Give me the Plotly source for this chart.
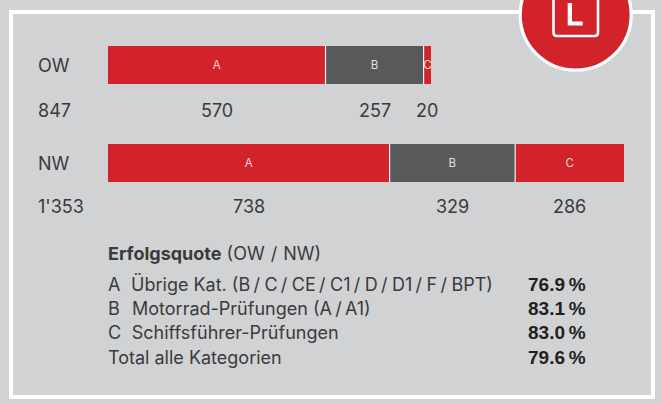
import plotly.graph_objects as go

W, H = 662, 403
regions = ["OW", "NW"]
totals = ["847", "1'353"]
seg_names = ["A", "B", "C"]
seg_values = {"A": [570, 738], "B": [257, 329], "C": [20, 286]}
seg_colors = {"A": "#d2232a", "B": "#58595b", "C": "#d2232a"}
table_title = "Erfolgsquote"
table_sub = " (OW\u2004/\u2004NW)"
table_labels = [
    "A\u2002\u200aÜbrige Kat. (B\u2009/\u2005C\u2009/\u2005CE\u2009/\u2005C1\u2009/\u2005D\u2009/\u2005D1\u2009/\u2005F\u2009/\u2005BPT)",
    "B\u2002\u200a\u200aMotorrad-Prüfungen (A\u2009/\u2009A1)",
    "C\u2002\u200aSchiffsführer-Prüfungen",
    "Total alle Kategorien",
]
table_rates = ["76.9\u2009%", "83.1\u2009%", "83.0\u2009%", "79.6\u2009%"]

FONT = "Inter"
TXT = "#3a3a3c"
BG = "#d1d2d4"
RED = "#d2232a"


def px(x):
    return x / W


def py(y):
    return 1 - y / H


fig = go.Figure()
for name in seg_names:
    fig.add_trace(go.Bar(
        y=regions, x=seg_values[name], orientation="h", name=name,
        marker=dict(color=seg_colors[name], line=dict(width=0)),
        text=[name, name], textposition="inside", insidetextanchor="middle",
        textangle=0, constraintext="none",
        insidetextfont=dict(family=FONT, size=11.5, color="#ecdcdc"),
        hoverinfo="x+y",
    ))

shapes = []
# panel frame
shapes.append(dict(type="rect", xref="paper", yref="paper", x0=px(11), x1=px(653),
                   y0=py(12), y1=py(397), line=dict(color="white", width=4),
                   fillcolor="rgba(0,0,0,0)", layer="below"))
# white separators between segments
for row, region in enumerate(regions):
    cum = 0
    for name in seg_names[:-1]:
        cum += seg_values[name][row]
        shapes.append(dict(type="line", xref="x", yref="y", x0=cum, x1=cum,
                           y0=row - 0.194, y1=row + 0.194,
                           line=dict(color="#f4f4f4", width=1.2)))
# badge
cx, cy, r = 575.7, 14.7, 55.5
shapes.append(dict(type="circle", xref="paper", yref="paper",
                   x0=px(cx - r), x1=px(cx + r), y0=py(cy - r), y1=py(cy + r),
                   fillcolor=RED, line=dict(color="white", width=3.2)))
# licence plate outline
L, R, B, T, c = 553.5, 598, 36, -10, 3.5
path = (f"M {px(L)} {py(T)} L {px(L)} {py(B-c)} Q {px(L)} {py(B)} {px(L+c)} {py(B)} "
        f"L {px(R-c)} {py(B)} Q {px(R)} {py(B)} {px(R)} {py(B-c)} L {px(R)} {py(T)}")
shapes.append(dict(type="path", xref="paper", yref="paper", path=path,
                   line=dict(color="white", width=2.6)))
# letter L
lpath = (f"M {px(567.7)} {py(3)} L {px(572)} {py(3)} L {px(572)} {py(21.5)} "
         f"L {px(582.7)} {py(21.5)} L {px(582.7)} {py(25.5)} L {px(567.7)} {py(25.5)} Z")
shapes.append(dict(type="path", xref="paper", yref="paper", path=lpath,
                   fillcolor="white", line=dict(width=0)))

ann = []
SIZE = 18


def text(x, y, s, size=SIZE, anchor="left", color=TXT, family=FONT):
    ann.append(dict(xref="paper", yref="paper", x=px(x), y=py(y), text=s, showarrow=False,
                    xanchor=anchor, yanchor="middle", align=anchor, borderpad=0, borderwidth=0,
                    font=dict(family=family, size=size, color=color)))


row_y = [65.5, 163.5]
num_y = [110, 207]
for i, region in enumerate(regions):
    text(38, row_y[i], region)
    text(38, num_y[i], totals[i])
    cum = 0
    for name in seg_names:
        v = seg_values[name][i]
        ann.append(dict(xref="x", yref="paper", x=cum + v / 2, y=py(num_y[i]), text=str(v),
                        showarrow=False, xanchor="center", yanchor="middle",
                        font=dict(family=FONT, size=SIZE, color=TXT)))
        cum += v

text(108, 253.5, f"<b>{table_title}</b>{table_sub}")
table_y = [284, 308.5, 332.5, 357.5]
for y, lab, rate in zip(table_y, table_labels, table_rates):
    text(108, y, lab)
    text(528, y, f"<b>{rate}</b>", size=19, family="Liberation Sans", color="#231f20")

fig.update_layout(
    width=W, height=H, autosize=False,
    margin=dict(l=0, r=0, t=0, b=0, pad=0),
    paper_bgcolor=BG, plot_bgcolor="rgba(0,0,0,0)",
    barmode="stack", bargap=0.612, showlegend=False,
    xaxis=dict(domain=[px(108), px(624.3)], range=[0, 1353], visible=False, fixedrange=True),
    yaxis=dict(domain=[py(212), py(16)], range=[1.5, -0.5], type="category",
               categoryorder="array", categoryarray=regions, visible=False, fixedrange=True),
    shapes=shapes, annotations=ann,
)
fig.write_html("out.html", config={"displayModeBar": False},
               post_script="document.body.style.margin='0';")
